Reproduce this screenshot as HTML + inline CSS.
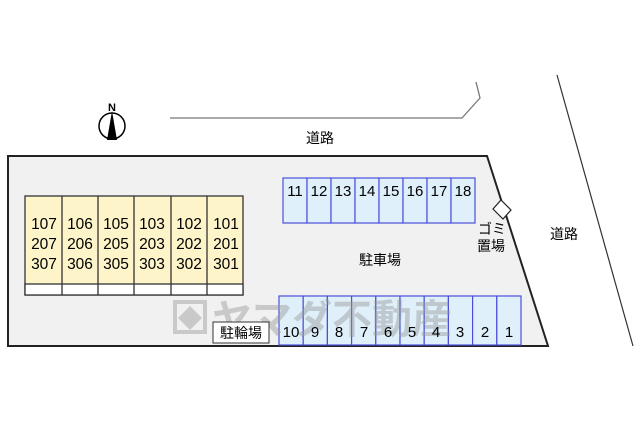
<!DOCTYPE html><html><head><meta charset="utf-8"><style>
body{margin:0;background:#fff;width:640px;height:427px;overflow:hidden}
svg text{font-family:"Liberation Sans","Noto Sans CJK JP",sans-serif}
</style></head><body>
<svg width="640" height="427" viewBox="0 0 640 427" xmlns="http://www.w3.org/2000/svg">
<polyline points="170,118 462,118 480,98 476,82" fill="none" stroke="#777" stroke-width="1.3"/>
<line x1="557" y1="75" x2="633" y2="346" stroke="#333" stroke-width="1.2"/>
<text x="320" y="143" font-size="14" text-anchor="middle">道路</text>
<text x="564" y="239" font-size="14" text-anchor="middle">道路</text>
<circle cx="112" cy="126" r="13" fill="#fff" stroke="#000" stroke-width="1.5"/>
<polygon points="112,111 107,140 117,140" fill="#000"/>
<text x="112" y="111" font-size="11" text-anchor="middle" font-weight="bold">N</text>
<polygon points="8,156 487,156 548,346 8,346" fill="#f1f1f1" stroke="#222" stroke-width="2"/>
<rect x="25" y="196" width="218" height="99" fill="#fdf5c9" stroke="#333" stroke-width="1.3"/>
<rect x="25" y="284" width="218" height="11" fill="#fff" stroke="#333" stroke-width="1.3"/>
<g stroke="#333" stroke-width="1.3"><line x1="62" y1="196" x2="62" y2="295"/><line x1="98" y1="196" x2="98" y2="295"/><line x1="134" y1="196" x2="134" y2="295"/><line x1="171" y1="196" x2="171" y2="295"/><line x1="207" y1="196" x2="207" y2="295"/></g>
<g font-size="15.5" text-anchor="middle">
<text x="44" y="229">107</text><text x="44" y="249">207</text><text x="44" y="269">307</text>
<text x="80" y="229">106</text><text x="80" y="249">206</text><text x="80" y="269">306</text>
<text x="116" y="229">105</text><text x="116" y="249">205</text><text x="116" y="269">305</text>
<text x="152" y="229">103</text><text x="152" y="249">203</text><text x="152" y="269">303</text>
<text x="189" y="229">102</text><text x="189" y="249">202</text><text x="189" y="269">302</text>
<text x="226" y="229">101</text><text x="226" y="249">201</text><text x="226" y="269">301</text>
</g>
<g fill="#dff0fb" stroke="#4b4fd8" stroke-width="1.2">
<rect x="283" y="178" width="24" height="45"/><rect x="307" y="178" width="24" height="45"/><rect x="331" y="178" width="24" height="45"/><rect x="355" y="178" width="24" height="45"/><rect x="379" y="178" width="24" height="45"/><rect x="403" y="178" width="24" height="45"/><rect x="427" y="178" width="24" height="45"/><rect x="451" y="178" width="24" height="45"/>
<rect x="279" y="296" width="24.2" height="49"/><rect x="303.2" y="296" width="24.2" height="49"/><rect x="327.4" y="296" width="24.2" height="49"/><rect x="351.6" y="296" width="24.2" height="49"/><rect x="375.8" y="296" width="24.2" height="49"/><rect x="400" y="296" width="24.2" height="49"/><rect x="424.2" y="296" width="24.2" height="49"/><rect x="448.4" y="296" width="24.2" height="49"/><rect x="472.6" y="296" width="24.2" height="49"/><rect x="496.8" y="296" width="24.2" height="49"/>
</g>
<g fill="#999" opacity="0.45">
<rect x="175" y="302" width="30" height="30" fill="none" stroke="#999" stroke-width="4"/>
<polygon points="190,306 202,318 190,330 178,318"/>
<text x="212" y="333" font-size="40" font-weight="bold">ヤマダ不動産</text>
</g>
<g font-size="15" text-anchor="middle">
<text x="295" y="196">11</text><text x="319" y="196">12</text><text x="343" y="196">13</text><text x="367" y="196">14</text><text x="391" y="196">15</text><text x="415" y="196">16</text><text x="439" y="196">17</text><text x="463" y="196">18</text>
<text x="291" y="337">10</text><text x="315" y="337">9</text><text x="339" y="337">8</text><text x="364" y="337">7</text><text x="388" y="337">6</text><text x="412" y="337">5</text><text x="436" y="337">4</text><text x="460" y="337">3</text><text x="485" y="337">2</text><text x="509" y="337">1</text>
</g>
<text x="380" y="265" font-size="14" text-anchor="middle">駐車場</text>
<polygon points="501,200 511,210 503,219 493,209" fill="#fff" stroke="#222" stroke-width="1.2"/>
<text x="492" y="234" font-size="14" text-anchor="middle">ゴミ</text>
<text x="491" y="251" font-size="14" text-anchor="middle">置場</text>
<rect x="213" y="322" width="56" height="21" fill="#fff" stroke="#333" stroke-width="1"/>
<text x="241" y="338" font-size="14" text-anchor="middle">駐輪場</text>
</svg>
</body></html>
